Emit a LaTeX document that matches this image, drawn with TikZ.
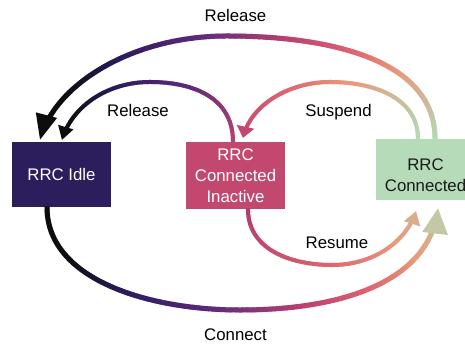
\documentclass[tikz,border=0pt]{standalone}
\usepackage{fontspec}
\setmainfont{Liberation Sans}
\usetikzlibrary{arrows.meta,decorations.markings}

% box fills
\definecolor{idlefill}{HTML}{2C1D5D}
\definecolor{inactfill}{HTML}{C2486F}
\definecolor{connfill}{HTML}{B5DBB9}
\definecolor{connink}{HTML}{1A1A1A}

% colour ramp used along the transition arcs
\definecolor{pal0}{HTML}{0D0D0D}
\definecolor{pal1}{HTML}{2A1B5C}
\definecolor{pal2}{HTML}{5F2A7C}
\definecolor{pal3}{HTML}{BB4170}
\definecolor{pal4}{HTML}{DD6470}
\definecolor{pal5}{HTML}{E89A7C}
\definecolor{pal6}{HTML}{B4DAB6}

% \palset{v}: sets colour "cur" to the ramp value at v in [0,1]
\newcommand\palset[1]{%
  \pgfmathsetmacro\palv{max(0,min(1,#1))}%
  \ifdim\palv pt<0.15pt
    \pgfmathsetmacro\palw{100*\palv/0.15}\colorlet{cur}{pal1!\palw!pal0}%
  \else\ifdim\palv pt<0.35pt
    \pgfmathsetmacro\palw{100*(\palv-0.15)/0.20}\colorlet{cur}{pal2!\palw!pal1}%
  \else\ifdim\palv pt<0.55pt
    \pgfmathsetmacro\palw{100*(\palv-0.35)/0.20}\colorlet{cur}{pal3!\palw!pal2}%
  \else\ifdim\palv pt<0.70pt
    \pgfmathsetmacro\palw{100*(\palv-0.55)/0.15}\colorlet{cur}{pal4!\palw!pal3}%
  \else\ifdim\palv pt<0.82pt
    \pgfmathsetmacro\palw{100*(\palv-0.70)/0.12}\colorlet{cur}{pal5!\palw!pal4}%
  \else
    \pgfmathsetmacro\palw{min(100,100*(\palv-0.82)/0.18)}\colorlet{cur}{pal6!\palw!pal5}%
  \fi\fi\fi\fi\fi
}

\newcommand\labfont{\fontsize{16.8}{21}\selectfont}

\tikzset{
  box/.style={rectangle, inner sep=0pt, minimum width=99pt, align=center,
    font=\labfont},
  lab/.style={anchor=base, inner sep=0pt, font=\labfont},
  % flow={start value}{end value}{half line width}{head length}{head width}
  flow/.style n args={5}{
    postaction={decorate, decoration={markings,
      mark=between positions 0 and -#4 step 1.2pt with {%
        \pgfmathsetmacro\flowf{\pgfkeysvalueof{/pgf/decoration/mark info/distance from start}/\pgfdecoratedpathlength}%
        \palset{#1+(#2-#1)*\flowf}%
        \fill[cur] (-0.9pt,-#3) rectangle (0.9pt,#3);
      }}},
    postaction={decorate, decoration={markings,
      mark=at position 0.999 with {%
        \palset{#2}%
        \fill[cur] (0.3pt,0pt) -- (-#4,#5/2) -- (-#4,-#5/2) -- cycle;
      }}}
  }
}

\begin{document}
\begin{tikzpicture}[x=1pt,y=-1pt]
\useasboundingbox (0,0) rectangle (465,344);
\clip (0,0) rectangle (465,344);

% states
\node[box, fill=idlefill, text=white, minimum height=65pt] (idle) at (61.5,174.5) {RRC Idle};
\node[box, fill=inactfill, text=white, minimum height=67pt] (inact) at (235.5,175.5) {RRC\\Connected\\Inactive};
\node[box, fill=connfill, minimum height=61pt] (conn) at (425.5,169.5) {};
\node[box, text=connink] (conntext) at (425.5,175.5) {RRC\\Connected};

% Release: Connected -> Idle (outer arc)
\coordinate (toppeak) at (227,36);
\path[flow={1}{-0.12}{2.5pt}{25pt}{22pt}]
  ([xshift=9.5pt]conn.north) .. controls +(0,-79) and +(103,0) .. (toppeak)
  .. controls +(-95,0) and +(14,-55) .. ([xshift=-21.5pt,yshift=2pt]idle.north);

% Release: Connected Inactive -> Idle
\coordinate (relpeak) at (150,82);
\path[flow={0.55}{-0.05}{2pt}{13pt}{16pt}]
  ([xshift=-2.5pt]inact.north) .. controls +(0,-45) and +(42,0) .. (relpeak)
  .. controls +(-42,0) and +(10,-34) .. ([xshift=0.5pt,yshift=2pt]idle.north);

% Suspend: Connected -> Connected Inactive
\coordinate (suspeak) at (330,82);
\path[flow={1}{0.58}{2pt}{11pt}{18pt}]
  ([xshift=-7.5pt]conn.north) .. controls +(0,-42) and +(42,0) .. (suspeak)
  .. controls +(-42,0) and +(7,-32) .. ([xshift=7.5pt,yshift=4pt]inact.north);

% Resume: Connected Inactive -> Connected
\coordinate (respeak) at (332,265);
\path[flow={0.52}{0.88}{2pt}{13pt}{17pt}]
  ([xshift=12.5pt]inact.south) .. controls +(0,41) and +(-40,0) .. (respeak)
  .. controls +(43,0) and +(-9,29) .. ([xshift=-9.5pt,yshift=-11pt]conn.south);

% Connect: Idle -> Connected
\coordinate (conpeak) at (240,310);
\path[flow={-0.12}{0.95}{2.5pt}{25pt}{26pt}]
  ([xshift=-14.5pt]idle.south) .. controls +(0,73) and +(-90,0) .. (conpeak)
  .. controls +(105,0) and +(-8,72) .. ([xshift=12.5pt,yshift=-8pt]conn.south);

% transition labels
\node[lab] (lrelout) at (235.5,22) {Release};
\node[lab] (lrelin) at (138,117) {Release};
\node[lab] (lsus) at (338.5,117) {Suspend};
\node[lab] (lres) at (337,249) {Resume};
\node[lab] (lcon) at (235.5,340) {Connect};
\end{tikzpicture}
\end{document}
